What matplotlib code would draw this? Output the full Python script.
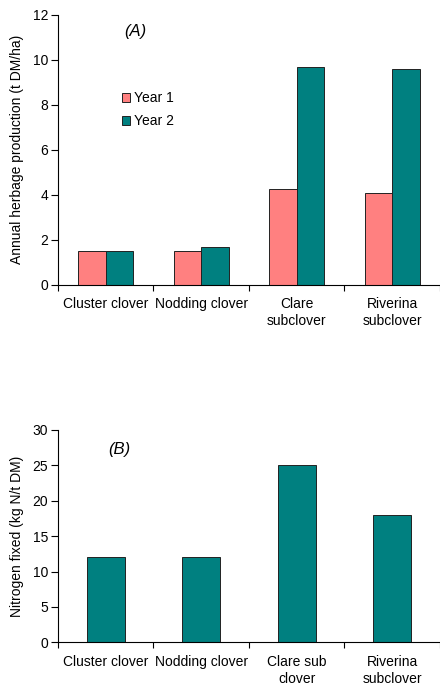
import numpy as np
import matplotlib
matplotlib.use("Agg")
import matplotlib.pyplot as plt

plt.rcParams['font.family'] = ['Liberation Sans', 'DejaVu Sans']

# data
labels_a = ["Cluster clover", "Nodding clover", "Clare\nsubclover", "Riverina\nsubclover"]
year1 = [1.5, 1.5, 4.28, 4.09]
year2 = [1.5, 1.7, 9.68, 9.58]

labels_b = ["Cluster clover", "Nodding clover", "Clare sub\nclover", "Riverina\nsubclover"]
n_fixed = [12, 12, 25, 18]

pink = '#FF8080'
teal = '#008080'

fig = plt.figure(figsize=(4.4, 6.87), dpi=100)
ax1 = fig.add_axes([0.1318, 0.5852, 0.8682, 0.3934])
ax2 = fig.add_axes([0.1318, 0.0651, 0.8682, 0.3090])

x = np.arange(len(labels_a))
w = 0.29
ax1.bar(x - w / 2, year1, w, color=pink, edgecolor='#222222', linewidth=0.7, label='Year 1')
ax1.bar(x + w / 2, year2, w, color=teal, edgecolor='#222222', linewidth=0.7, label='Year 2')
ax1.set_ylim(0, 12)
ax1.set_yticks(range(0, 13, 2))
ax1.set_ylabel("Annual herbage production (t DM/ha)", fontsize=10)
ax1.text(0.2016, 0.936, "(A)", transform=ax1.transAxes, fontsize=12, style='italic',
         ha='center', va='center')
ax1.legend(loc='upper left', bbox_to_anchor=(0.1675, 0.716), frameon=False, fontsize=10,
           handlelength=0.6, handleheight=0.6, handletextpad=0.3, labelspacing=0.62,
           borderpad=0, borderaxespad=0)

xb = np.arange(len(labels_b))
ax2.bar(xb, n_fixed, 0.40, color=teal, edgecolor='#222222', linewidth=0.7)
ax2.set_ylim(0, 30)
ax2.set_yticks(range(0, 31, 5))
ax2.set_ylabel("Nitrogen fixed (kg N/t DM)", fontsize=10)
ax2.text(0.16, 0.906, "(B)", transform=ax2.transAxes, fontsize=12, style='italic',
         ha='center', va='center')

for ax, labs in [(ax1, labels_a), (ax2, labels_b)]:
    ax.set_xlim(-0.5, 3.5)
    ax.set_xticks(range(4))
    ax.set_xticklabels(labs, fontsize=10, linespacing=1.25)
    ax.set_xticks(np.arange(-0.5, 4.0, 1.0), minor=True)
    ax.tick_params(axis='x', which='major', length=0, pad=9)
    ax.tick_params(axis='x', which='minor', length=4, width=0.8, direction='out')
    ax.tick_params(axis='y', length=5, width=0.8, labelsize=10, pad=2)
    ax.spines['top'].set_visible(False)
    ax.spines['right'].set_visible(False)
    ax.spines['left'].set_linewidth(0.8)
    ax.spines['bottom'].set_linewidth(0.8)
    ax.yaxis.set_label_coords(-0.09, 0.5)

fig.savefig("out.png", dpi=100)
